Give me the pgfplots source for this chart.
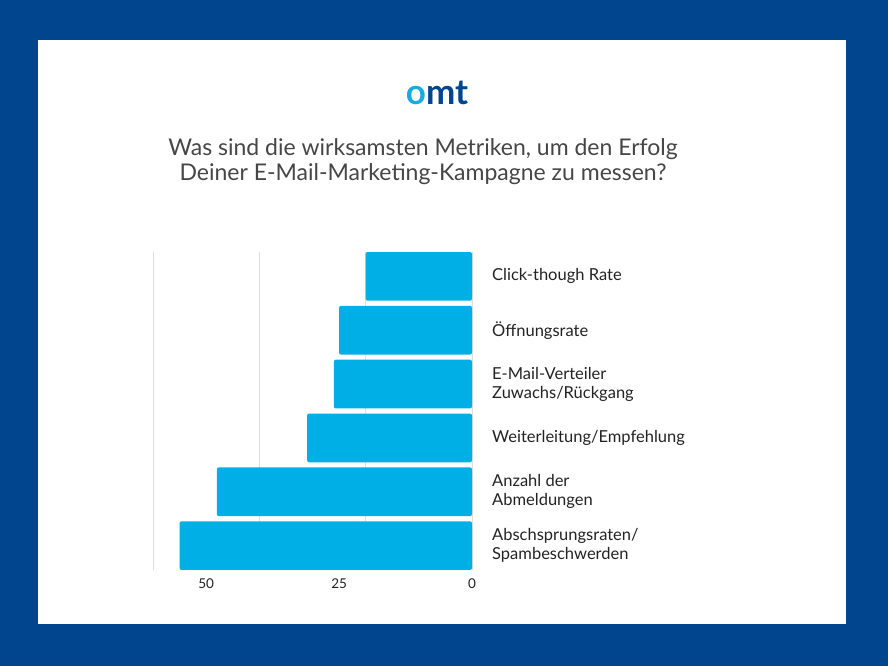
\documentclass[border=0pt]{standalone}
\usepackage{fontspec}
\setmainfont{Lato}
\usepackage{pgfplots}
\pgfplotsset{compat=1.18}
\definecolor{frame}{RGB}{0,69,142}
\definecolor{barblue}{RGB}{0,175,230}
\definecolor{logocyan}{RGB}{25,170,225}
\definecolor{gridgray}{RGB}{222,222,222}
\definecolor{titletxt}{RGB}{70,70,70}
\definecolor{labeltxt}{RGB}{35,35,35}
\begin{document}
\begin{tikzpicture}[x=1pt,y=1pt]
% frame and white panel
\fill[frame] (0,0) rectangle (888,666);
\fill[white] (38,42) rectangle (846,626);
% logo
\node[font=\bfseries\fontsize{35}{35}\selectfont, inner sep=0] at (437,573)
  {{\color{logocyan}o}{\color{frame}mt}};
% title
\node[align=center, text=titletxt, font=\fontsize{23}{25}\selectfont] at (423,504)
  {Was sind die wirksamsten Metriken, um den Erfolg\\Deiner E-Mail-Marketing-Kampagne zu messen?};
\begin{axis}[
  at={(153pt,96pt)}, anchor=south west,
  scale only axis, width=319pt, height=318pt,
  xbar, bar width=48.7pt,
  x dir=reverse, y dir=reverse,
  xmin=0, xmax=60,
  ymin=-0.453, ymax=5.453,
  axis line style={draw=none},
  major tick length=0,
  xtick={0,25,50},
  extra x ticks={0,20,40,60},
  extra x tick labels={},
  extra x tick style={grid=major, major grid style={gridgray, line width=0.8pt}},
  xticklabel style={font=\fontsize{13.5}{14}\selectfont, text=labeltxt, yshift=-5pt},
  /pgf/number format/assume math mode=true,
  ytick={0,1,2,3,4,5},
  yticklabels={{Click-though Rate},{Öffnungsrate},{E-Mail-Verteiler\\Zuwachs/Rückgang},{Weiterleitung/Empfehlung},{Anzahl der\\Abmeldungen},{Abschsprungsraten/\\Spambeschwerden}},
  yticklabel pos=right,
  yticklabel style={font=\fontsize{16.5}{19}\selectfont, text=labeltxt, align=left, anchor=west, inner sep=0pt, xshift=20pt},
]
\addplot[fill=barblue, draw=none, rounded corners=2pt, bar shift=0pt]
coordinates {(20,0) (25,1) (26,2) (31,3) (48,4) (55,5)};
\end{axis}
\end{tikzpicture}
\end{document}
